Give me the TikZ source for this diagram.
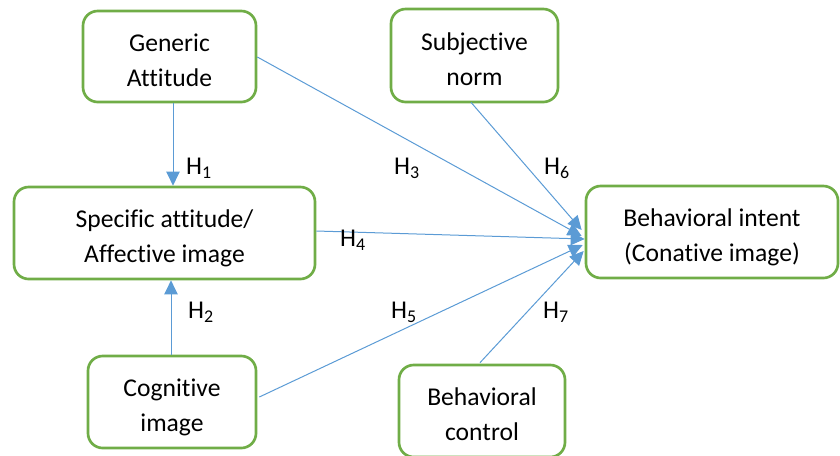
\documentclass[tikz,border=0pt]{standalone}
\usepackage{fontspec}
\setmainfont{Carlito}[Ligatures=NoCommon]
\usetikzlibrary{arrows.meta,calc}
\definecolor{boxgreen}{HTML}{70AD47}
\definecolor{arrblue}{HTML}{5B9BD5}
\newcommand{\tstr}{\rule{0pt}{23pt}}
\newcommand{\bstr}{\rule[-5pt]{0pt}{5pt}}
\tikzset{
  box/.style={draw=boxgreen, line width=2pt, rounded corners=11pt, align=center,
    inner sep=0pt, font=\fontsize{19.2}{26.25}\selectfont},
  arr/.style={draw=arrblue, line width=0.75pt, -{Triangle[length=10.5pt,width=10pt]}},
  lab/.style={inner sep=0pt, font=\fontsize{19.2}{23}\selectfont}
}
\begin{document}
\begin{tikzpicture}[x=0.75pt,y=-0.75pt]
\useasboundingbox (0,0) rectangle (840,455);
\node[box, minimum width=129.75pt, minimum height=68.25pt] (GA) at (169.5,56.5) {\tstr Generic\\Attitude\bstr};
\node[box, minimum width=125.25pt, minimum height=69.75pt] (SN) at (474.5,55.5) {\tstr Subjective\\norm\bstr};
\node[box, minimum width=225.75pt, minimum height=69pt] (SA) at (164.5,233) {\tstr Specific attitude/\\Affective image\bstr};
\node[box, minimum width=189pt, minimum height=69pt] (BI) at (712,232) {\tstr Behavioral intent\\(Conative image)\bstr};
\node[box, minimum width=126pt, minimum height=69pt] (CI) at (172,402) {\tstr Cognitive\\image\bstr};
\node[box, minimum width=124.5pt, minimum height=69pt] (BC) at (482,411) {\tstr Behavioral\\control\bstr};

\coordinate (t3) at ($(BI.west)+(-3,4)$);
\coordinate (t4) at ($(BI.west)+(0,7)$);
\coordinate (t5) at ($(BI.west)+(-2,13)$);
\coordinate (t6) at ($(BI.west)+(-3,-2)$);
\coordinate (t7) at ($(BI.west)+(-1,19)$);

\draw[arr] ($(GA.south)+(3.5,0)$) -- ($(SA.north)+(8.5,0)$);
\draw[arr] ($(CI.north)+(-1,0)$) -- ($(SA.south)+(6.5,0)$);
\draw[arr] ($(GA.east)+(0,0.5)$) -- (t3);
\draw[arr] ($(SA.east)+(0,-2)$) -- (t4);
\draw[arr] ($(CI.east)+(2,-5)$) -- (t5);
\draw[arr] ($(SN.south)+(-3.5,-1)$) -- (t6);
\draw[arr] ($(BC.north)+(-2,-1)$) -- (t7);

\node[lab] (h1) at (199,168) {H\textsubscript{1}};
\node[lab] (h2) at (201,312) {H\textsubscript{2}};
\node[lab] (h3) at (407,168) {H\textsubscript{3}};
\node[lab] (h4) at (353,240) {H\textsubscript{4}};
\node[lab] (h5) at (404,312) {H\textsubscript{5}};
\node[lab] (h6) at (557,168) {H\textsubscript{6}};
\node[lab] (h7) at (556,312) {H\textsubscript{7}};
\end{tikzpicture}
\end{document}
